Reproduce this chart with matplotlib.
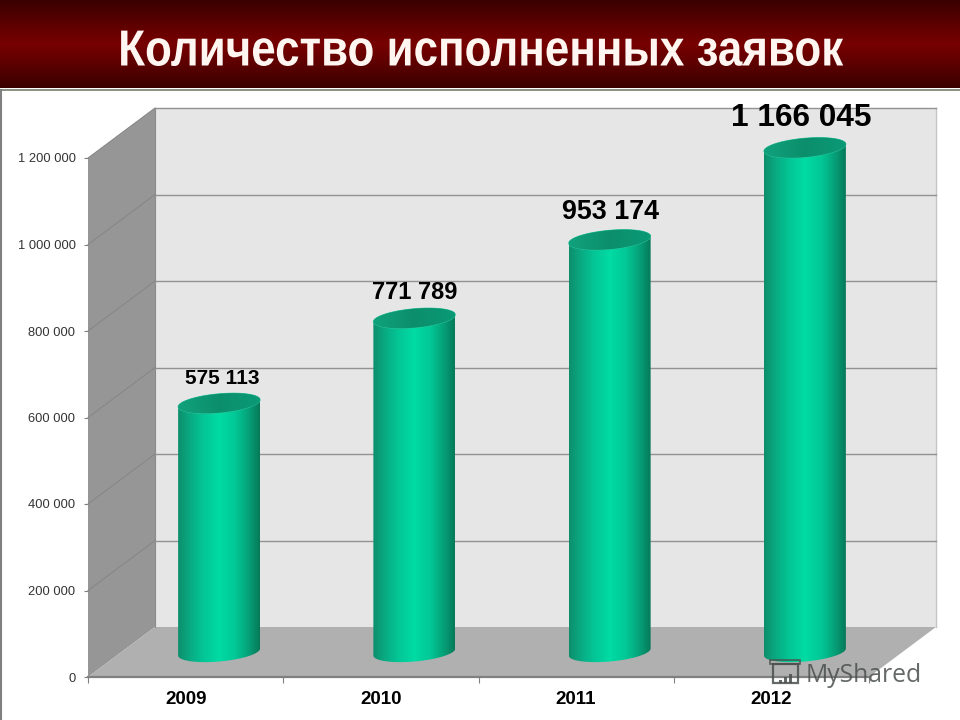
import numpy as np
import matplotlib
matplotlib.use("Agg")
import matplotlib.pyplot as plt
from matplotlib.colors import LinearSegmentedColormap
from matplotlib.patches import Polygon, Rectangle
from matplotlib.patheffects import AbstractPathEffect
from matplotlib.ticker import FuncFormatter
from matplotlib.transforms import Affine2D

# Data
years = ["2009", "2010", "2011", "2012"]
requests = [575113, 771789, 953174, 1166045]
yticks = [0, 200000, 400000, 600000, 800000, 1000000, 1200000]
title = "Количество исполненных заявок"

# Label styling per bar (font size, offsets from bar top in px)
label_sizes = [15, 17, 19.4, 22.8]
label_dx = [3, 0.5, 1, -4]
label_dy = [25, 26, 28, 30]

# Layout in pixels
W, H = 960, 720
left, right, top, bottom = 88, 869, 158, 677
depth_x, depth_y = 67, 50
bar_half = 41
ell_b, ell_tilt = 9.5, 3.5


# No narrow bold font is installed, so squeeze the glyphs of the title
class Squeeze(AbstractPathEffect):
    def __init__(self, factor, center):
        super().__init__()
        self.factor = factor
        self.center = center

    def draw_path(self, renderer, gc, tpath, affine, rgbFace=None):
        squeeze = Affine2D().translate(-self.center, 0).scale(self.factor, 1).translate(self.center, 0)
        renderer.draw_path(gc, tpath, affine + squeeze, rgbFace)


plt.rcParams["font.family"] = ["Liberation Sans", "DejaVu Sans"]

fig = plt.figure(figsize=(W / 100, H / 100), dpi=100, facecolor="white")

# Banner and page border
bg = fig.add_axes([0, 0, 1, 1], zorder=0)
bg.set_xlim(0, W)
bg.set_ylim(H, 0)
bg.axis("off")
banner = LinearSegmentedColormap.from_list("banner", ["#3a0000", "#5a0000", "#780000", "#5a0000", "#3a0000"])
bg.imshow(np.linspace(0, 1, 88)[:, None], cmap=banner, extent=(0, W, 88, 0), aspect="auto")
bg.set_xlim(0, W)
bg.set_ylim(H, 0)
bg.plot([0, W], [89.5, 89.5], color="#7f8a7a", lw=1.3)
bg.plot([0.5, 0.5], [89.5, H], color="#808080", lw=1.5)

# Chart axes: the front plane of the 3d box
ax = fig.add_axes([left / W, 1 - bottom / H, (right - left) / W, (bottom - top) / H], zorder=1)
ax.set_xlim(0, len(years))
ax.set_ylim(0, yticks[-1])
ax.patch.set_alpha(0)
px_x = len(years) / (right - left)
px_y = yticks[-1] / (bottom - top)
dx, dy = depth_x * px_x, depth_y * px_y
n = len(years)
ymax = yticks[-1]

# Walls
ax.add_patch(Polygon([(dx, dy), (n + dx, dy), (n + dx, ymax + dy), (dx, ymax + dy)],
                     fc="#e6e6e6", ec="none", clip_on=False, zorder=1))
ax.add_patch(Polygon([(0, 0), (dx, dy), (dx, ymax + dy), (0, ymax)],
                     fc="#969696", ec="none", clip_on=False, zorder=1))
ax.add_patch(Polygon([(0, 0), (dx, dy), (n + dx, dy), (n, 0)],
                     fc="#b0b0b0", ec="none", clip_on=False, zorder=1))
ax.plot([n + dx, n + dx], [dy, ymax + dy], color="#c4c4c4", lw=1, clip_on=False, zorder=2)
ax.plot([dx, dx], [dy, ymax + dy], color="#8a8a8a", lw=0.8, clip_on=False, zorder=2)

# Grid on back wall and side wall
for v in yticks[1:]:
    ax.plot([dx, n + dx], [v + dy, v + dy], color="#929292", lw=1, clip_on=False, zorder=2)
    ax.plot([0, dx], [v, v + dy], color="#858585", lw=0.7, clip_on=False, zorder=2)

# Cylinders
body_cmap = LinearSegmentedColormap.from_list(
    "body", [(0, "#0c8f6b"), (0.12, "#0aa67f"), (0.3, "#04c595"), (0.5, "#00dba4"),
             (0.7, "#02c896"), (0.88, "#069c75"), (1, "#077a59")])
cap_cmap = LinearSegmentedColormap.from_list("cap", [(0, "#10a27c"), (0.5, "#0c8e6b"), (1, "#0a9a76")])
t = np.linspace(0, np.pi, 60)
t_full = np.linspace(0, 2 * np.pi, 120)
a = bar_half * px_x
b = ell_b * px_y
k = ell_tilt * px_y
grad = np.linspace(0, 1, 128)[None, :]

for i, val in enumerate(requests):
    cx = i + 0.5 + dx / 2
    y0 = dy / 2
    y1 = val + dy / 2
    # lower half of the base ellipse, then up the sides to the top centre line
    base = np.column_stack([cx - a * np.cos(t), y0 - b * np.sin(t) - k * np.cos(t)])
    upper = np.column_stack([cx + a * np.cos(t), y1 + k * np.cos(t) + b * np.sin(t)])
    body = Polygon(np.vstack([base, upper]), fc="none", ec="none", clip_on=False, zorder=3)
    ax.add_patch(body)
    im = ax.imshow(grad, cmap=body_cmap, extent=(cx - a, cx + a, y0 - 2 * b, y1 + 2 * b),
                   aspect="auto", zorder=3)
    im.set_clip_path(body)
    im.set_clip_box(fig.bbox)

    cap = Polygon(np.column_stack([cx + a * np.cos(t_full), y1 + k * np.cos(t_full) + b * np.sin(t_full)]),
                  fc="none", ec="#35c8a2", lw=0.6, clip_on=False, zorder=4)
    ax.add_patch(cap)
    im2 = ax.imshow(grad, cmap=cap_cmap, extent=(cx - a, cx + a, y1 - 2 * b, y1 + 2 * b),
                    aspect="auto", zorder=4)
    im2.set_clip_path(cap)
    im2.set_clip_box(fig.bbox)

    ax.annotate(f"{val:,}".replace(",", " "), (cx, y1),
                xytext=(label_dx[i] * 0.72, label_dy[i] * 0.72),
                textcoords="offset points", ha="center", va="center",
                fontsize=label_sizes[i], fontweight="bold", color="black",
                annotation_clip=False, zorder=6)

ax.set_xlim(0, n)
ax.set_ylim(0, ymax)

# Axes ticks
for side in ["top", "right", "left"]:
    ax.spines[side].set_visible(False)
ax.spines["bottom"].set_color("#808080")
ax.spines["bottom"].set_linewidth(1.6)
ax.spines["bottom"].set_zorder(2)
ax.set_yticks(yticks)
ax.yaxis.set_major_formatter(FuncFormatter(lambda v, pos: f"{int(v):,}".replace(",", " ")))
ax.tick_params(axis="y", length=3, width=0.8, color="#808080", labelcolor="#333333",
               labelsize=9.3, pad=6)
ax.set_xticks(np.arange(n + 1))
ax.set_xticklabels([])
ax.set_xticks(np.arange(n) + 0.5, labels=years, minor=True)
ax.tick_params(axis="x", which="major", length=4.5, width=0.8, color="#808080")
ax.tick_params(axis="x", which="minor", length=0, labelsize=13.5, pad=10)
for lab in ax.get_xticklabels(minor=True):
    lab.set_fontweight("bold")
    lab.set_color("black")

# Title
fig.text(481 / W, 1 - 52 / H, title, ha="center", va="center", color="#fff6f2",
         fontsize=36.5, fontweight="bold", zorder=5,
         path_effects=[Squeeze(725 / 836, 481)])

# Watermark over the chart
over = fig.add_axes([0, 0, 1, 1], zorder=3)
over.set_xlim(0, W)
over.set_ylim(H, 0)
over.axis("off")
wm = "#4a4f4c"
over.add_patch(Rectangle((773, 664), 25, 19, fc="none", ec=wm, lw=1.6, alpha=0.85))
over.add_patch(Rectangle((770, 660), 30, 4, fc="none", ec=wm, lw=1.2, alpha=0.85))
over.bar([780, 785, 790], [3, 6, 9], width=3, bottom=[680, 677, 674], color=wm, alpha=0.85)
over.set_xlim(0, W)
over.set_ylim(H, 0)
over.text(806, 675, "MyShared", color=wm, fontsize=17.8, family="Open Sans", alpha=0.85,
          ha="left", va="center")

fig.savefig("out.png", dpi=100)
